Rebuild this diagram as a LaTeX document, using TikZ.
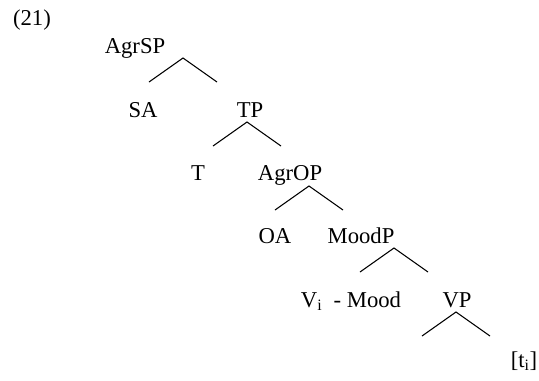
\documentclass[tikz,border=0pt]{standalone}
\usepackage{fontspec}
\setmainfont{Liberation Serif}

\begin{document}
\begin{tikzpicture}[
  x=0.75pt, y=-0.75pt,
  font=\fontsize{17}{20}\selectfont,
  cat/.style={anchor=base, inner sep=0pt},
  branch/.style={line width=0.8pt},
]
\useasboundingbox (0,0) rectangle (539,380);
\node[cat] (exnum) at (32,25) {(21)};
% category labels
\node[cat] (agrsp) at (135,53) {AgrSP};
\node[cat] (sa) at (143,117) {SA};
\node[cat] (tp) at (250,117) {TP};
\node[cat] (t) at (198,180) {T};
\node[cat] (agrop) at (290,180) {AgrOP};
\node[cat] (oa) at (275,243) {OA};
\node[cat] (moodp) at (361,243) {MoodP};
\node[cat] (vmood) at (351,307) {V\textsubscript{i}\ \ - Mood};
\node[cat] (vp) at (457,307) {VP};
\node[cat] (trace) at (524,367) {[t\textsubscript{i}]};
% branching forks under each phrase
\foreach \name/\x/\y in {agrsp/183/58, tp/247/122, agrop/309/186, moodp/394/248, vp/456/312} {
  \coordinate (\name-top) at (\x,\y);
  \coordinate (\name-left) at (\x-34,\y+24);
  \coordinate (\name-right) at (\x+34,\y+24);
  \draw[branch] (\name-left) -- (\name-top) -- (\name-right);
}
\end{tikzpicture}
\end{document}
